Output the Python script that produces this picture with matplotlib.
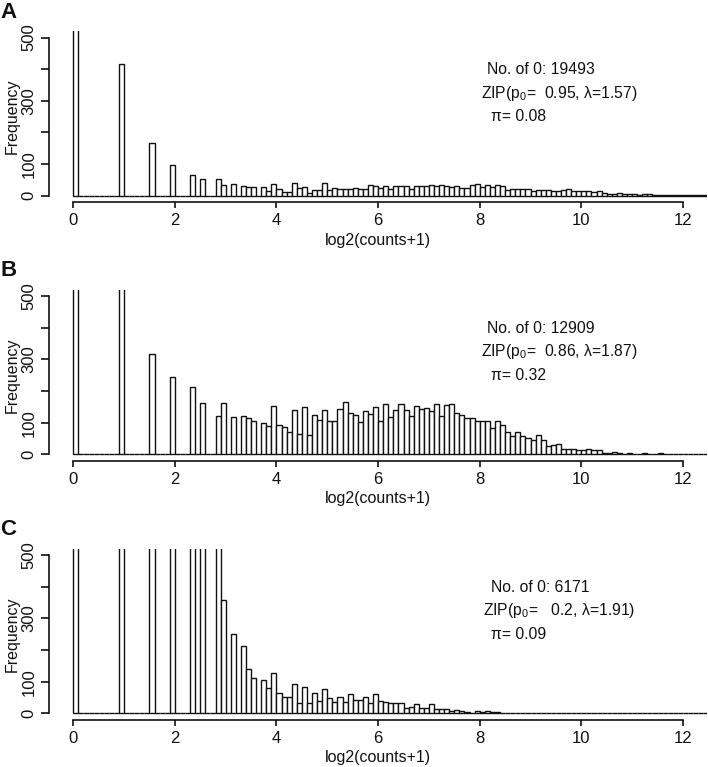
import matplotlib
matplotlib.use("Agg")
import matplotlib.pyplot as plt
import numpy as np

plt.rcParams['font.family'] = ['Liberation Sans', 'DejaVu Sans']
plt.rcParams['mathtext.fontset'] = 'custom'
plt.rcParams['mathtext.rm'] = 'Liberation Sans'
plt.rcParams['mathtext.it'] = 'Liberation Sans'

# histogram bins of width 0.1 on log2(counts+1), bin i covers (0.1*i, 0.1*(i+1)]
n_bins = 125
bin_width = 0.1

# non-zero bins: {bin index: frequency}; bars above 500 are cut off by the axis
counts_a = {
    0: 19493, 9: 418, 15: 166, 19: 97, 23: 64, 25: 53, 28: 52, 29: 34, 31: 36,
    33: 32, 34: 26, 35: 26, 37: 28, 38: 15, 39: 38, 40: 20, 41: 13, 42: 13,
    43: 40, 44: 23, 45: 28, 46: 7, 47: 19, 48: 17, 49: 39, 50: 18, 51: 23,
    52: 21, 53: 21, 54: 21, 55: 23, 56: 21, 57: 22, 58: 34, 59: 30, 60: 24,
    61: 30, 62: 22, 63: 30, 64: 32, 65: 30, 66: 22, 67: 30, 68: 32, 69: 32,
    70: 34, 71: 32, 72: 33, 73: 30, 74: 26, 75: 30, 76: 24, 77: 24, 78: 35,
    79: 37, 80: 26, 81: 33, 82: 26, 83: 33, 84: 31, 85: 19, 86: 21, 87: 21,
    88: 21, 89: 20, 90: 16, 91: 18, 92: 18, 93: 18, 94: 16, 95: 14, 96: 17,
    97: 22, 98: 16, 99: 14, 100: 16, 101: 14, 102: 12, 103: 14, 104: 8,
    105: 5, 106: 6, 107: 7, 108: 6, 109: 4, 110: 4, 111: 3, 112: 4, 113: 4,
    114: 3, 115: 2, 116: 3, 117: 2, 118: 1, 119: 3, 120: 3, 121: 2, 122: 3,
    123: 2, 124: 1,
}
counts_b = {
    0: 12909, 9: 1450, 15: 316, 19: 244, 23: 213, 25: 162, 28: 122, 29: 162,
    31: 117, 33: 122, 34: 115, 35: 105, 37: 98, 38: 89, 39: 153, 40: 92,
    41: 85, 42: 69, 43: 139, 44: 65, 45: 148, 46: 60, 47: 125, 48: 110,
    49: 139, 50: 104, 51: 105, 52: 144, 53: 165, 54: 129, 55: 123, 56: 103,
    57: 137, 58: 126, 59: 148, 60: 105, 61: 158, 62: 118, 63: 141, 64: 158,
    65: 141, 66: 122, 67: 154, 68: 144, 69: 145, 70: 136, 71: 160, 72: 122,
    73: 157, 74: 160, 75: 131, 76: 123, 77: 116, 78: 116, 79: 105, 80: 104,
    81: 104, 82: 84, 83: 105, 84: 94, 85: 71, 86: 58, 87: 71, 88: 59, 89: 50,
    90: 46, 91: 60, 92: 44, 93: 25, 94: 28, 95: 32, 96: 18, 97: 18, 98: 18,
    99: 13, 100: 13, 101: 18, 102: 15, 103: 15, 104: 4, 105: 3, 106: 7,
    107: 4, 108: 2, 109: 4, 110: 2, 111: 2, 112: 3, 113: 2, 114: 2, 115: 3,
    116: 2, 117: 1, 118: 2, 119: 1, 120: 2, 121: 1, 122: 1, 123: 2, 124: 1,
}
counts_c = {
    0: 6171, 9: 2600, 15: 1600, 19: 1100, 23: 800, 25: 650, 28: 560, 29: 358,
    31: 252, 33: 212, 34: 139, 35: 112, 37: 106, 38: 81, 39: 126, 40: 63,
    41: 50, 42: 53, 43: 92, 44: 32, 45: 83, 46: 32, 47: 63, 48: 40, 49: 76,
    50: 47, 51: 35, 52: 53, 53: 37, 54: 61, 55: 42, 56: 42, 57: 51, 58: 34,
    59: 61, 60: 38, 61: 37, 62: 34, 63: 34, 64: 34, 65: 17, 66: 21, 67: 28,
    68: 17, 69: 18, 70: 28, 71: 13, 72: 13, 73: 13, 74: 7, 75: 9, 76: 7,
    77: 4, 78: 2, 79: 8, 80: 5, 81: 6, 82: 4, 83: 3,
}

panel_letters = ["A", "B", "C"]
n_zero = ["19493", "12909", "6171"]
p0_text = ["  0.95", "  0.86", "   0.2"]
lam_text = ["1.57", "1.87", "1.91"]
pi_text = ["0.08", "0.32", "0.09"]

y_ticks = [0, 100, 200, 300, 400, 500]
y_ticklabels = ["0", "100", "", "300", "", "500"]
x_ticks = [0, 2, 4, 6, 8, 10, 12]

ink = '#111111'
fig = plt.figure(figsize=(7.08, 7.67), dpi=100)
W, H = 708.0, 767.0
ax_left, ax_w, ax_h = 48.9 / W, 658.4 / W, 170.7 / H
ax_bottoms_px = [202.0, 460.6, 719.6]

for k, counts in enumerate([counts_a, counts_b, counts_c]):
    heights = np.zeros(n_bins)
    for i, v in counts.items():
        heights[i] = v
    edges = np.arange(n_bins) * bin_width

    ax = fig.add_axes([ax_left, 1 - ax_bottoms_px[k] / H, ax_w, ax_h])
    ax.bar(edges, heights, width=bin_width, align='edge', color='white',
           edgecolor=ink, linewidth=1.0)
    ax.set_xlim(-0.48, 12.48)
    ax.set_ylim(-20, 520)

    for s in ['top', 'right']:
        ax.spines[s].set_visible(False)
    ax.spines['left'].set_bounds(0, 500)
    ax.spines['bottom'].set_bounds(0, 12)
    for s in ['left', 'bottom']:
        ax.spines[s].set_linewidth(1.2)
        ax.spines[s].set_color(ink)

    ax.set_xticks(x_ticks)
    ax.set_yticks(y_ticks)
    ax.set_yticklabels(y_ticklabels, rotation=90, va='center')
    ax.tick_params(axis='x', length=4, width=1.2, pad=4, labelsize=12,
                   colors=ink)
    ax.tick_params(axis='y', length=6, width=1.2, pad=3, labelsize=12,
                   colors=ink)

    ax.set_ylabel("Frequency", fontsize=11.5, color=ink)
    ax.yaxis.label.set_va('center')
    ax.yaxis.set_label_coords(-0.0553, 0.5)
    ax.set_xlabel("log2(counts+1)", fontsize=11.5, color=ink)
    ax.xaxis.label.set_va('center')
    ax.xaxis.set_label_coords(0.499, -38 / 170.7)

    ax.text(9.20, 398, "No. of 0: " + n_zero[k], ha='center', va='center',
            fontsize=11.3, color=ink)
    ax.text(9.56, 324, "ZIP(p$_0$=" + p0_text[k] + ", \u03bb=" + lam_text[k] + ")",
            ha='center', va='center', fontsize=11.3, color=ink)
    ax.text(8.77, 250, "\u03c0= " + pi_text[k], ha='center', va='center',
            fontsize=11.3, color=ink)

    fig.text(0.0, 1 - (12 + (ax_bottoms_px[k] - ax_bottoms_px[0])) / H,
             panel_letters[k], ha='left', va='center', fontsize=16,
             fontweight='bold', color=ink)

fig.savefig("out.png", dpi=100)
